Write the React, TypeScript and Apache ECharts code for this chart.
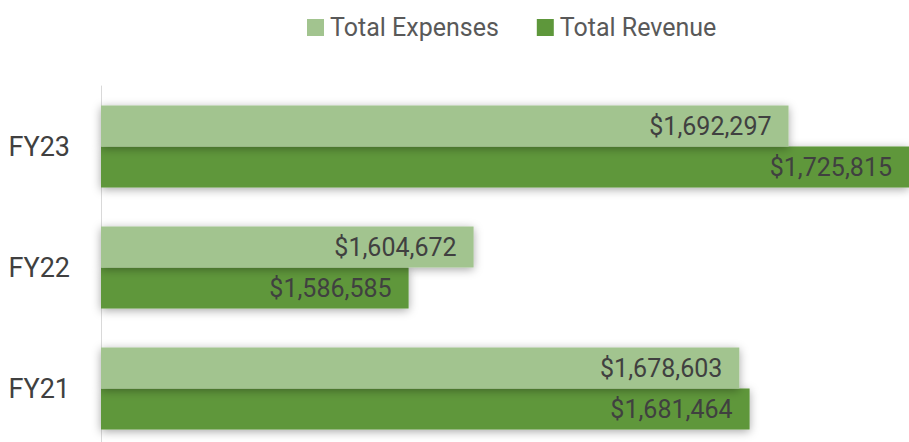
import React, { useEffect, useRef } from "react";
import * as echarts from "echarts";

const categories = ["FY21", "FY22", "FY23"];
const expenses = [1678603, 1604672, 1692297];
const revenue = [1681464, 1586585, 1725815];
const seriesNames = ["Total Expenses", "Total Revenue"];

const fmt = (v: number) => "$" + v.toLocaleString("en-US");

export default function App() {
  const ref = useRef<HTMLDivElement>(null);
  useEffect(() => {
    if (!ref.current) return;
    const chart = echarts.init(ref.current, null, { renderer: "svg" });
    const labelStyle = {
      show: true,
      position: "insideRight",
      distance: 17,
      color: "#404040",
      fontFamily: "Roboto",
      fontSize: 25,
      formatter: (p: any) => fmt(p.value),
    };
    chart.setOption({
      animation: false,
      backgroundColor: "#ffffff",
      textStyle: { fontFamily: "Roboto" },
      legend: {
        top: 10,
        left: 302,
        icon: "rect",
        itemWidth: 17,
        itemHeight: 17,
        itemGap: 38,
        textStyle: { fontSize: 25, color: "#595959", fontFamily: "Roboto", padding: [0, 0, 0, 1] },
        data: seriesNames,
      },
      grid: { left: 101, right: 0, top: 86, height: 363, containLabel: false },
      xAxis: {
        type: "value",
        min: 1501000,
        max: 1725815,
        show: false,
      },
      yAxis: {
        type: "category",
        data: categories,
        axisLine: { show: true, lineStyle: { color: "#d9d9d9", width: 1 } },
        axisTick: { show: false },
        axisLabel: {
          color: "#404040",
          fontSize: 27,
          fontFamily: "Roboto",
          margin: 31,
          padding: [0, 0, 8, 0],
        },
        splitLine: { show: false },
      },
      series: [
        {
          name: seriesNames[0],
          type: "bar",
          data: expenses,
          z: 3,
          barWidth: 41,
          barGap: "0%",
          itemStyle: {
            color: "#a2c48f",
            shadowColor: "rgba(0,0,0,0.35)",
            shadowBlur: 10,
            shadowOffsetY: 2,
          },
          label: labelStyle,
        },
        {
          name: seriesNames[1],
          type: "bar",
          data: revenue,
          z: 2,
          barWidth: 41,
          barGap: "0%",
          itemStyle: {
            color: "#5e973b",
            shadowColor: "rgba(0,0,0,0.35)",
            shadowBlur: 10,
            shadowOffsetY: 2,
          },
          label: labelStyle,
        },
      ],
    });
    return () => chart.dispose();
  }, []);
  return (
    <div style={{ position: "absolute", left: 0, top: 0, width: 909, height: 442, overflow: "hidden" }}>
      <div ref={ref} style={{ width: 909, height: 460 }} />
    </div>
  );
}
